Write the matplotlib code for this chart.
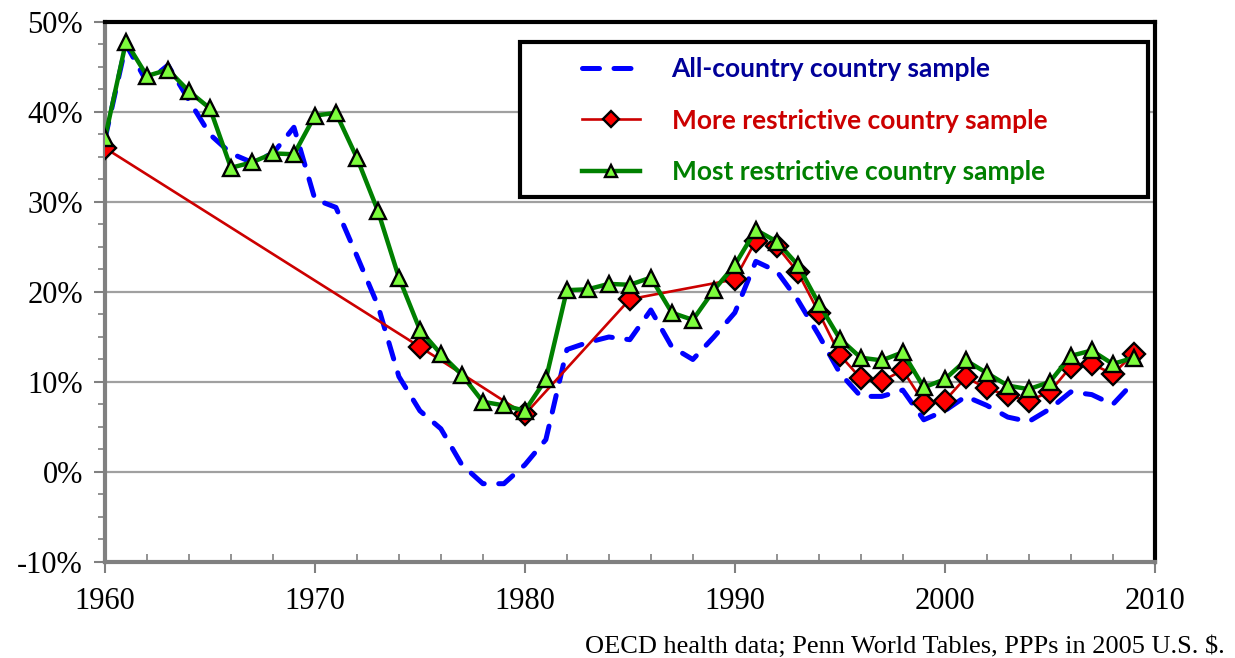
import matplotlib
matplotlib.use("Agg")
import matplotlib.pyplot as plt
from matplotlib.patches import Rectangle
from matplotlib.ticker import MultipleLocator, FixedLocator

# Années et séries (en %)
annees = list(range(1960, 2010))
tous_pays = [37.0, 47.5, 43.3, 45.2, 41.3, 37.5, 35.4, 34.4, 35.4, 38.3,
             30.3, 29.4, 24.0, 18.5, 10.6, 6.8, 4.8, 0.8, -1.3, -1.3,
             0.8, 3.6, 13.6, 14.4, 15.0, 14.7, 18.0, 13.9, 12.5, 15.0,
             17.7, 23.4, 22.3, 19.1, 15.2, 11.0, 8.4, 8.4, 9.1, 5.8,
             6.8, 8.4, 7.4, 6.1, 5.6, 7.0, 8.9, 8.6, 7.5, 10.0]

annees_plus = [1960, 1975, 1980, 1985, 1990, 1991, 1992, 1993, 1994, 1995,
               1996, 1997, 1998, 1999, 2000, 2001, 2002, 2003, 2004, 2005,
               2006, 2007, 2008, 2009]
plus_restrictif = [36.0, 13.9, 6.4, 19.2, 21.4, 25.7, 25.1, 22.2, 17.7, 13.0,
                   10.4, 10.1, 11.3, 7.7, 7.9, 10.5, 9.3, 8.5, 7.9, 8.9,
                   11.7, 12.0, 10.9, 13.1]

tres_restrictif = [37.1, 47.8, 44.0, 44.7, 42.3, 40.4, 33.8, 34.4, 35.4, 35.3,
                   39.6, 39.9, 34.9, 29.0, 21.6, 15.8, 13.1, 10.8, 7.8, 7.4,
                   6.8, 10.3, 20.2, 20.3, 20.9, 20.8, 21.6, 17.7, 16.9, 20.2,
                   23.0, 26.9, 25.6, 23.0, 18.7, 14.8, 12.7, 12.4, 13.3, 9.4,
                   10.3, 12.4, 11.0, 9.6, 9.2, 10.0, 12.9, 13.5, 12.0, 12.7]

ticks_y = [-10, 0, 10, 20, 30, 40, 50]
labels_y = ["-10%", "0%", "10%", "20%", "30%", "40%", "50%"]
ticks_x = [1960, 1970, 1980, 1990, 2000, 2010]

fig = plt.figure(figsize=(12.35, 6.58), dpi=100)
ax = fig.add_axes([0.085, 0.1459, 0.850, 0.8207])

# Quadrillage horizontal
for y in ticks_y[1:-1]:
    ax.axhline(y, color="#a0a0a0", linewidth=1.6, zorder=1)

ax.plot(annees, tous_pays, color="#0000ff", linewidth=3.6, linestyle=(0, (3.4, 2.9)),
        dash_capstyle="round", label="All-country country sample", zorder=2)
ax.plot(annees_plus, plus_restrictif, color="#cc0000", linewidth=1.9, marker="D",
        markersize=11.5, markerfacecolor="#ff0000", markeredgecolor="black",
        markeredgewidth=1.7, label="More restrictive country sample", zorder=3)
ax.plot(annees, tres_restrictif, color="#008000", linewidth=3.2, marker="^",
        markersize=11, markerfacecolor="#7cfc3c", markeredgecolor="black",
        markeredgewidth=1.7, label="Most restrictive country sample", zorder=4)

ax.set_xlim(1960, 2010)
ax.set_ylim(-10, 50)
ax.yaxis.set_major_locator(FixedLocator(ticks_y))
ax.set_yticklabels(labels_y)
ax.yaxis.set_minor_locator(MultipleLocator(2.5))
ax.xaxis.set_major_locator(FixedLocator(ticks_x))
ax.xaxis.set_minor_locator(MultipleLocator(2))

for lab in ax.get_xticklabels() + ax.get_yticklabels():
    lab.set_family("Liberation Serif")
    lab.set_fontsize(22)

ax.tick_params(axis="y", which="major", direction="out", length=8, width=1.5,
               color="#808080", pad=8)
ax.tick_params(axis="y", which="minor", direction="out", length=5, width=1.2,
               color="#808080")
ax.tick_params(axis="x", which="major", direction="out", length=8, width=1.5,
               color="#808080", pad=10)
ax.tick_params(axis="x", which="minor", direction="in", length=6, width=1.2,
               color="#808080")

for s in ["left", "bottom"]:
    ax.spines[s].set_color("#808080")
    ax.spines[s].set_linewidth(3)
for s in ["top", "right"]:
    ax.spines[s].set_color("black")
    ax.spines[s].set_linewidth(3)

# Cadre de la légende dessiné à part
ax.add_patch(Rectangle((0.3952, 0.676), 0.598, 0.287, transform=ax.transAxes,
                       facecolor="white", edgecolor="black", linewidth=3, zorder=5))

leg = ax.legend(loc="upper left", bbox_to_anchor=(0.4543, 0.935),
                frameon=False, borderpad=0, borderaxespad=0,
                handlelength=2.2, handletextpad=1.2, labelspacing=1.04,
                markerscale=0.75,
                prop={"family": "Lato", "weight": "bold", "size": 19})
leg.set_zorder(6)
for txt, c in zip(leg.get_texts(), ["#000099", "#cc0000", "#008000"]):
    txt.set_color(c)

fig.text(0.992, 0.008, "OECD health data; Penn World Tables, PPPs in 2005 U.S. $.",
         ha="right", va="baseline", family="Liberation Serif", fontsize=19)

fig.savefig("out.png", dpi=100)
